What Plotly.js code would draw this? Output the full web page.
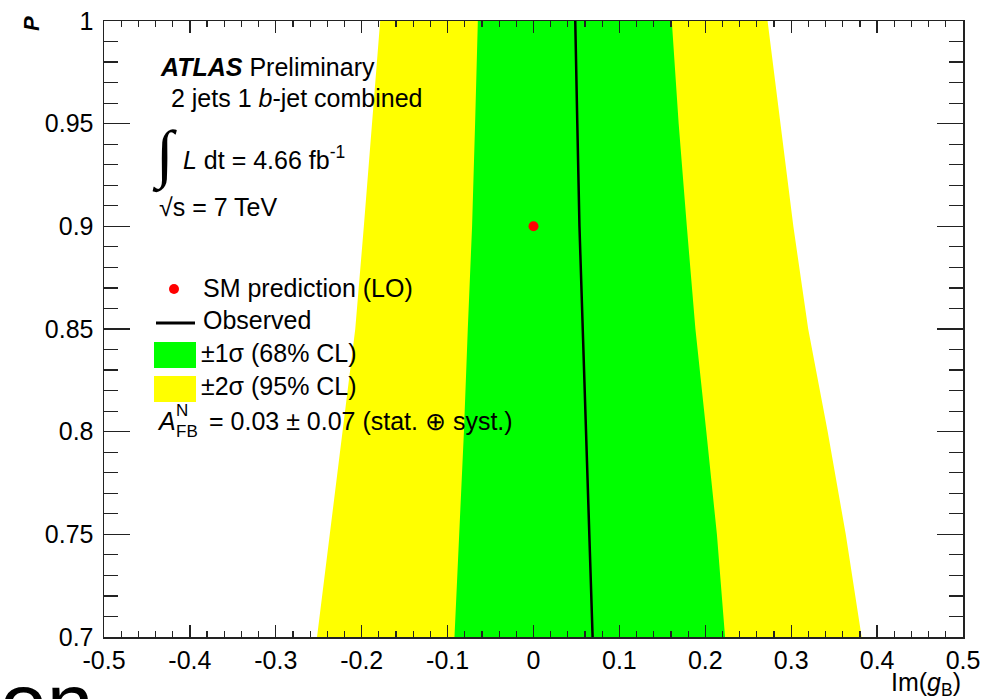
<!DOCTYPE html>
<html>
<head>
<meta charset="utf-8">
<script src="https://cdn.plot.ly/plotly-3.0.1.min.js"></script>
<style>
html,body{margin:0;padding:0;background:#fff;}
#chart{width:982px;height:699px;}
</style>
</head>
<body>
<div id="chart"></div>
<script>
// ---- data ----
const pValues      = [0.70, 0.75, 0.80, 0.85, 0.90, 0.95, 1.00];
const yellowLeft   = [-0.252, -0.237, -0.222, -0.2075, -0.1975, -0.188, -0.1785];
const greenLeft    = [-0.092, -0.0865, -0.081, -0.0765, -0.0715, -0.068, -0.0648];
const observed     = [0.0688, 0.065, 0.0605, 0.0572, 0.0535, 0.051, 0.0486];
const greenRight   = [0.223, 0.2135, 0.2012, 0.1885, 0.1785, 0.169, 0.161];
const yellowRight  = [0.382, 0.3635, 0.3425, 0.3198, 0.3025, 0.2873, 0.2725];
const smX = [0.0];
const smY = [0.9];
const xTickVals = [-0.5, -0.4, -0.3, -0.2, -0.1, 0, 0.1, 0.2, 0.3, 0.4, 0.5];
const xTickText = ["-0.5", "-0.4", "-0.3", "-0.2", "-0.1", "0", "0.1", "0.2", "0.3", "0.4", "0.5"];
const yTickVals = [0.7, 0.75, 0.8, 0.85, 0.9, 0.95, 1];
const yTickText = ["0.7", "0.75", "0.8", "0.85", "0.9", "0.95", "1"];

const FONT = "Liberation Sans, Arial, Helvetica, sans-serif";
const YELLOW = "#ffff00", GREEN = "#00ff00";

function band(left, right) {
  return {
    x: left.concat(right.slice().reverse()),
    y: pValues.concat(pValues.slice().reverse())
  };
}
const yb = band(yellowLeft, yellowRight);
const gb = band(greenLeft, greenRight);

const traces = [
  {type: "scatter", mode: "lines", x: yb.x, y: yb.y, fill: "toself",
   fillcolor: YELLOW, line: {width: 0, color: YELLOW}, name: "±2σ (95% CL)", showlegend: false, hoverinfo: "skip"},
  {type: "scatter", mode: "lines", x: gb.x, y: gb.y, fill: "toself",
   fillcolor: GREEN, line: {width: 0, color: GREEN}, name: "±1σ (68% CL)", showlegend: false, hoverinfo: "skip"},
  {type: "scatter", mode: "lines", x: observed, y: pValues,
   line: {color: "#000", width: 2.5}, name: "Observed", showlegend: false},
  {type: "scatter", mode: "markers", x: smX, y: smY,
   marker: {color: "#ff0000", size: 10}, name: "SM prediction (LO)", showlegend: false}
];

// pixel -> paper helpers (plot area: x 104..963, y 21..637)
const L = 104, R = 963, T = 21, B = 637;
const px = x => (x - L) / (R - L);
const py = y => (B - y) / (B - T);

function ann(text, x, y, size, opts) {
  return Object.assign({
    text: text, xref: "paper", yref: "paper", x: px(x), y: py(y),
    xanchor: "left", yanchor: "middle", showarrow: false,
    font: {family: FONT, size: size || 25, color: "#000"}
  }, opts || {});
}

const annotations = [
  ann("<b><i>ATLAS</i></b> Preliminary", 158, 67),
  ann(" 2 jets 1 <i>b</i>-jet combined", 162, 98),
  ann("∫", 150, 155, 64, {font: {family: "Liberation Serif, DejaVu Serif, serif", size: 64, color: "#000"}}),
  ann("<i>L</i> dt = 4.66 fb<sup>-1</sup>", 181, 158),
  ann("√s = 7 TeV", 157, 207),
  ann("SM prediction (LO)", 201, 288),
  ann("Observed", 201, 320),
  ann("±1σ (68% CL)", 199, 353),
  ann("±2σ (95% CL)", 199, 386),
  ann("<i>A</i>", 155, 421),
  ann("N", 174, 410, 17),
  ann("FB", 174, 431, 17),
  ann("= 0.03 ± 0.07 (stat. ⊕ syst.)", 207, 421),
  // axis titles
  ann("Im(<i>g</i><sub>B</sub>)", 963, 684, 25, {xanchor: "right"}),
  ann("<i><b>P</b></i>", 31, 24, 22, {xanchor: "center", textangle: -90}),
  // fragment of slide text at bottom-left
  ann("on", -2, 654, 84, {yanchor: "top", font: {family: FONT, size: 84, color: "#000"}})
];

const shapes = [
  {type: "circle", xref: "paper", yref: "paper", x0: px(169), x1: px(179), y0: py(294), y1: py(284),
   fillcolor: "#ff0000", line: {width: 0}},
  {type: "line", xref: "paper", yref: "paper", x0: px(156), x1: px(195), y0: py(323), y1: py(323),
   line: {color: "#000", width: 3}},
  {type: "rect", xref: "paper", yref: "paper", x0: px(154), x1: px(196), y0: py(368), y1: py(342),
   fillcolor: GREEN, line: {width: 0}},
  {type: "rect", xref: "paper", yref: "paper", x0: px(154), x1: px(196), y0: py(402), y1: py(376),
   fillcolor: YELLOW, line: {width: 0}}
];

const axisCommon = {
  showgrid: false, zeroline: false, showline: true, linecolor: "#222", linewidth: 1.5,
  mirror: "allticks", ticks: "inside", tickcolor: "#222", tickwidth: 1.3,
  tickfont: {family: FONT, size: 25, color: "#000"}, fixedrange: true
};

const layout = {
  width: 982, height: 699,
  margin: {l: L, r: 982 - R, t: T, b: 699 - B, pad: 0},
  paper_bgcolor: "#fff", plot_bgcolor: "#fff",
  showlegend: false,
  xaxis: Object.assign({}, axisCommon, {
    range: [-0.5, 0.5], tickmode: "array", tickvals: xTickVals, ticktext: xTickText,
    ticklen: 12,
    minor: {dtick: 0.02, tick0: 0, ticks: "inside", ticklen: 6, tickcolor: "#222", tickwidth: 1.2, showgrid: false}
  }),
  yaxis: Object.assign({}, axisCommon, {
    range: [0.7, 1.0], tickmode: "array", tickvals: yTickVals, ticktext: yTickText,
    ticklen: 26, ticklabelstandoff: 4,
    minor: {dtick: 0.01, tick0: 0, ticks: "inside", ticklen: 14, tickcolor: "#222", tickwidth: 1.2, showgrid: false}
  }),
  annotations: annotations,
  shapes: shapes
};

Plotly.newPlot("chart", traces, layout, {staticPlot: true, displayModeBar: false});
</script>
</body>
</html>
